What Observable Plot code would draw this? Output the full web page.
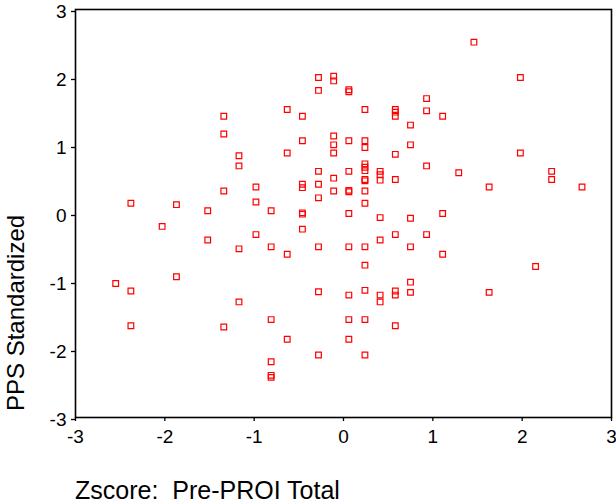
<!DOCTYPE html>
<html>
<head>
<meta charset="utf-8">
<script src="https://cdn.jsdelivr.net/npm/d3@7"></script>
<script src="https://cdn.jsdelivr.net/npm/@observablehq/plot@0.6"></script>
<style>
  html, body { margin: 0; padding: 0; background: #fff; }
  svg text { white-space: pre; }
</style>
</head>
<body>
<div id="chart"></div>
<script>
const xTitle = "Zscore:  Pre-PROI Total";
const yTitle = "PPS Standardized";
const tickValues = [-3, -2, -1, 0, 1, 2, 3];

const zscorePre = [
  -1.34, -1.34, -1.17, -1.17, -1.34, -2.38, -1.87, -1.52,
  -0.28, -0.11, -0.11, -0.28, 0.06, 0.06, -0.63, -0.46, 0.24, 0.58, 0.58, 0.58, 0.75,
  -0.46, -0.11, -0.11, 0.06, 0.24, 0.24, 0.75, -0.63, -0.11, 0.58,
  -0.28, 0.06, 0.24, 0.24, 0.24, 0.41, 0.41, 0.41, 0.58, 0.24, 0.24, -0.11,
  -0.28, -0.46, -0.46, -0.98, -0.11, 0.06, 0.06, 0.24, -0.28, -0.98, -0.81,
  -0.46, -0.46, 0.06, 0.24, 0.41, 0.75,
  1.46, 1.98, 0.93, 0.93, 1.11, 1.98, 0.93, 1.29, 1.63, 2.33, 2.33, 2.67, 1.11,
  -2.03, -1.52, -1.17, -1.87, -2.55, -2.38, -1.17, -2.38, -1.34,
  -0.98, -0.46, -0.81, -0.63, -0.28, 0.06, 0.24, 0.41, 0.58, 0.75,
  0.24, 0.75, -0.28, 0.06, 0.24, 0.41, 0.41, 0.58, 0.58, 0.75,
  -0.81, 0.06, 0.24, 0.58, -0.63, 0.06, -0.28, 0.24, -0.81, -0.81, -0.81,
  0.93, 1.11, 2.15, 1.63
];
const ppsStd = [
  1.43, 1.17, 0.85, 0.70, 0.33, 0.15, 0.13, 0.04,
  2.00, 2.02, 1.95, 1.81, 1.82, 1.79, 1.53, 1.43, 1.53, 1.53, 1.49, 1.43, 1.30,
  1.07, 1.14, 1.01, 1.07, 1.07, 0.97, 1.01, 0.89, 0.89, 0.87,
  0.62, 0.62, 0.73, 0.68, 0.63, 0.62, 0.57, 0.49, 0.50, 0.50, 0.48, 0.52,
  0.43, 0.43, 0.38, 0.39, 0.33, 0.34, 0.32, 0.33, 0.23, 0.17, 0.04,
  0.01, -0.01, 0.00, 0.15, -0.06, -0.07,
  2.52, 2.00, 1.69, 1.51, 1.43, 0.89, 0.70, 0.60, 0.39, 0.62, 0.50, 0.39, 0.00,
  -0.19, -0.39, -0.52, -0.93, -1.03, -1.14, -1.30, -1.65, -1.67,
  -0.31, -0.23, -0.49, -0.60, -0.49, -0.49, -0.49, -0.39, -0.31, -0.49,
  -0.76, -1.01, -1.15, -1.20, -1.13, -1.20, -1.30, -1.14, -1.20, -1.16,
  -1.56, -1.56, -1.56, -1.65, -1.85, -1.85, -2.08, -2.08, -2.18, -2.38, -2.41,
  -0.31, -0.60, -0.78, -1.16
];

const points = zscorePre.map((x, i) => ({x, y: ppsStd[i]}));

const font = "'Liberation Sans', Arial, Helvetica, sans-serif";

const chart = Plot.plot({
  width: 616,
  height: 504,
  marginLeft: 75,
  marginRight: 5,
  marginTop: 9,
  marginBottom: 87,
  style: {fontFamily: font, background: "#fff", color: "#000"},
  x: {domain: [-3, 3]},
  y: {domain: [-3, 3]},
  marks: [
    Plot.frame({stroke: "#000", strokeWidth: 1.6}),
    Plot.axisX({ticks: tickValues, tickFormat: d => String(d), tickSize: 4, tickPadding: 8,
      fontSize: 19, label: null, stroke: "#000", strokeWidth: 1.3}),
    Plot.axisY({ticks: tickValues, tickFormat: d => String(d), tickSize: 4, tickPadding: 5,
      fontSize: 19, label: null, dy: 2, stroke: "#000", strokeWidth: 1.3}),
    Plot.dot(points, {x: "x", y: "y", symbol: "square", r: 3.2, stroke: "#ff0000",
      fill: "none", strokeWidth: 1.2})
  ]
});

const svg = d3.select(chart);
svg.append("text")
  .attr("x", 75)
  .attr("y", 499)
  .attr("text-anchor", "start")
  .attr("font-size", 25)
  .attr("font-family", font)
  .attr("fill", "#000")
  .text(xTitle);
svg.append("text")
  .attr("transform", "translate(24,411) rotate(-90)")
  .attr("text-anchor", "start")
  .attr("font-size", 24)
  .attr("font-family", font)
  .attr("fill", "#000")
  .text(yTitle);

document.getElementById("chart").appendChild(chart);
</script>
</body>
</html>
